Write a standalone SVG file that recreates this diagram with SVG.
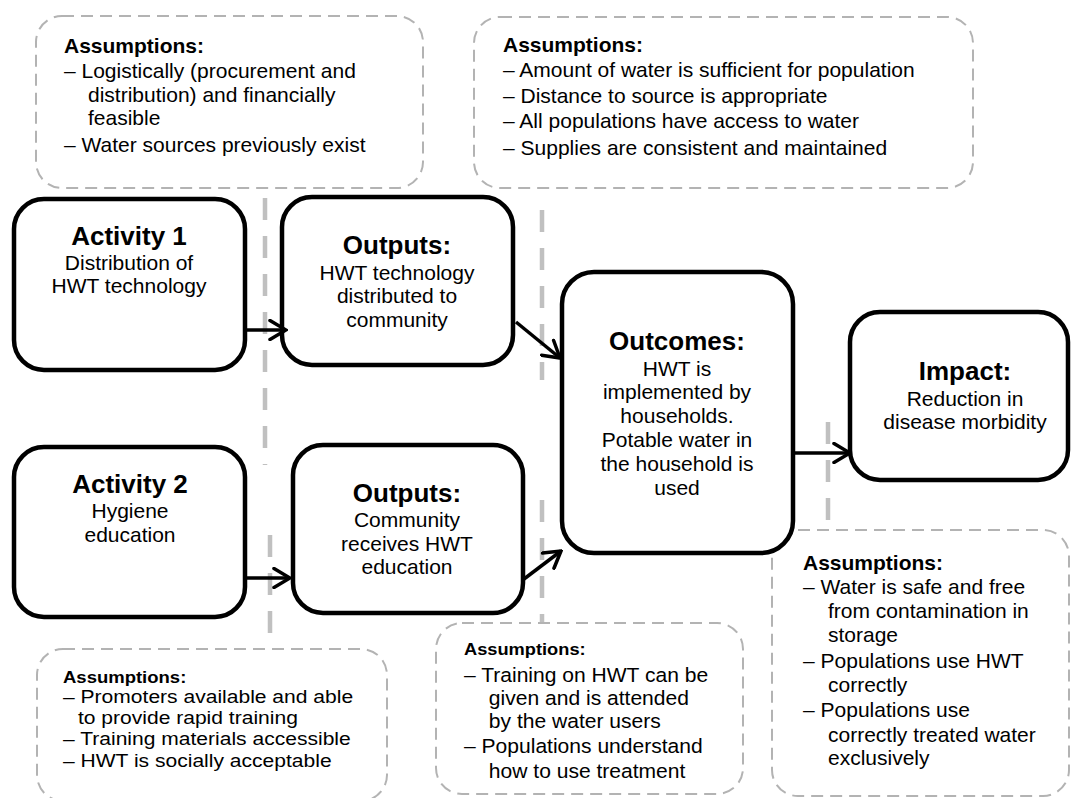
<svg xmlns="http://www.w3.org/2000/svg" width="1072" height="798" viewBox="0 0 1072 798">
<style>
text{font-family:"Liberation Sans",Arial,sans-serif;fill:#000}
.t{font-weight:bold;font-size:26px;text-anchor:middle}
.b{font-size:21px;text-anchor:middle}
.h{font-weight:bold;font-size:21px}
.a{font-size:21px}
.node{fill:#fff;stroke:#000;stroke-width:4.5}
.asm{fill:#fff;stroke:#b3b3b3;stroke-width:2;stroke-dasharray:12 7}
.sep{fill:none;stroke:#c0c0c0;stroke-width:4.5;stroke-dasharray:22 16}
.arr{fill:none;stroke:#000;stroke-width:3.5;marker-end:url(#ah)}
</style>
<defs>
<marker id="ah" viewBox="0 0 20 22" refX="18" refY="11" markerWidth="20" markerHeight="22" markerUnits="userSpaceOnUse" orient="auto">
<path d="M2,1.5 L18,11 L2,20.5" fill="none" stroke="#000" stroke-width="3.5" stroke-linecap="round"/>
</marker>
</defs>

<g id="separators">
<line class="sep" x1="265" y1="198" x2="265" y2="465"/>
<line class="sep" x1="270" y1="535" x2="270" y2="649"/>
<line class="sep" x1="542" y1="210" x2="542" y2="380"/>
<line class="sep" x1="542" y1="500" x2="542" y2="623"/>
<line class="sep" x1="828" y1="422" x2="828" y2="530"/>
</g>

<g id="assume-top-left">
<rect class="asm" x="36" y="16" width="387" height="172" rx="26"/>
<text class="h" x="64" y="53">Assumptions:</text>
<text class="a" x="64" y="78">– Logistically (procurement and</text>
<text class="a" x="88" y="102">distribution) and financially</text>
<text class="a" x="88" y="125">feasible</text>
<text class="a" x="64" y="152">– Water sources previously exist</text>
</g>

<g id="assume-top-right">
<rect class="asm" x="474" y="17" width="499" height="171" rx="26"/>
<text class="h" x="503" y="52">Assumptions:</text>
<text class="a" x="503" y="77">– Amount of water is sufficient for population</text>
<text class="a" x="503" y="103">– Distance to source is appropriate</text>
<text class="a" x="503" y="128">– All populations have access to water</text>
<text class="a" x="503" y="155">– Supplies are consistent and maintained</text>
</g>

<g id="assume-bottom-left">
<rect class="asm" x="37" y="649" width="350" height="152" rx="26"/>
<g transform="translate(63 0) scale(1.15 1)">
<text x="0" y="683" style="font-weight:bold;font-size:16.1px">Assumptions:</text>
<text x="0" y="703" style="font-size:18.3px">– Promoters available and able</text>
<text x="13" y="724" style="font-size:18.3px">to provide rapid training</text>
<text x="0" y="745" style="font-size:18.3px">– Training materials accessible</text>
<text x="0" y="767" style="font-size:18.3px">– HWT is socially acceptable</text>
</g>
</g>

<g id="assume-bottom-middle">
<rect class="asm" x="436" y="623" width="307" height="171" rx="26"/>
<g transform="translate(464 0) scale(1.08 1)">
<text x="0" y="655" style="font-weight:bold;font-size:16.9px">Assumptions:</text>
<text x="0" y="682" style="font-size:19.5px">– Training on HWT can be</text>
<text x="23" y="705" style="font-size:19.5px">given and is attended</text>
<text x="23" y="728" style="font-size:19.5px">by the water users</text>
<text x="0" y="753" style="font-size:19.5px">– Populations understand</text>
<text x="23" y="778" style="font-size:19.5px">how to use treatment</text>
</g>
</g>

<g id="assume-bottom-right">
<rect class="asm" x="772" y="530" width="297" height="266" rx="26"/>
<text class="h" x="803" y="570">Assumptions:</text>
<text class="a" x="803" y="594">– Water is safe and free</text>
<text class="a" x="828" y="618">from contamination in</text>
<text class="a" x="828" y="642">storage</text>
<text class="a" x="803" y="668">– Populations use HWT</text>
<text class="a" x="828" y="692">correctly</text>
<text class="a" x="803" y="717">– Populations use</text>
<text class="a" x="828" y="742">correctly treated water</text>
<text class="a" x="828" y="765">exclusively</text>
</g>

<g id="activity1">
<rect class="node" x="14" y="199" width="231" height="171" rx="30"/>
<text class="t" x="129" y="245">Activity 1</text>
<text class="b" x="129" y="270">Distribution of</text>
<text class="b" x="129" y="293">HWT technology</text>
</g>

<g id="outputs1">
<rect class="node" x="282" y="197" width="231" height="168" rx="30"/>
<text class="t" x="397" y="254">Outputs:</text>
<text class="b" x="397" y="280">HWT technology</text>
<text class="b" x="397" y="303">distributed to</text>
<text class="b" x="397" y="327">community</text>
</g>

<g id="activity2">
<rect class="node" x="14" y="447" width="231" height="170" rx="30"/>
<text class="t" x="130" y="493">Activity 2</text>
<text class="b" x="130" y="518">Hygiene</text>
<text class="b" x="130" y="542">education</text>
</g>

<g id="outputs2">
<rect class="node" x="293" y="445" width="230" height="168" rx="30"/>
<text class="t" x="407" y="502">Outputs:</text>
<text class="b" x="407" y="527">Community</text>
<text class="b" x="407" y="551">receives HWT</text>
<text class="b" x="407" y="574">education</text>
</g>

<g id="outcomes">
<rect class="node" x="562" y="272" width="231" height="281" rx="32"/>
<text class="t" x="677" y="350">Outcomes:</text>
<text class="b" x="677" y="376">HWT is</text>
<text class="b" x="677" y="399">implemented by</text>
<text class="b" x="677" y="423">households.</text>
<text class="b" x="677" y="447">Potable water in</text>
<text class="b" x="677" y="471">the household is</text>
<text class="b" x="677" y="495">used</text>
</g>

<g id="impact">
<rect class="node" x="850" y="312" width="218" height="168" rx="30"/>
<text class="t" x="965" y="380">Impact:</text>
<text class="b" x="965" y="406">Reduction in</text>
<text class="b" x="965" y="429">disease morbidity</text>
</g>

<g id="connectors">
<line class="arr" x1="246" y1="330" x2="286" y2="330"/>
<line class="arr" x1="246" y1="578" x2="290" y2="578"/>
<line class="arr" x1="516" y1="322" x2="560" y2="358"/>
<line class="arr" x1="524" y1="579" x2="561" y2="551"/>
<line class="arr" x1="795" y1="453" x2="850" y2="453"/>
</g>
</svg>
